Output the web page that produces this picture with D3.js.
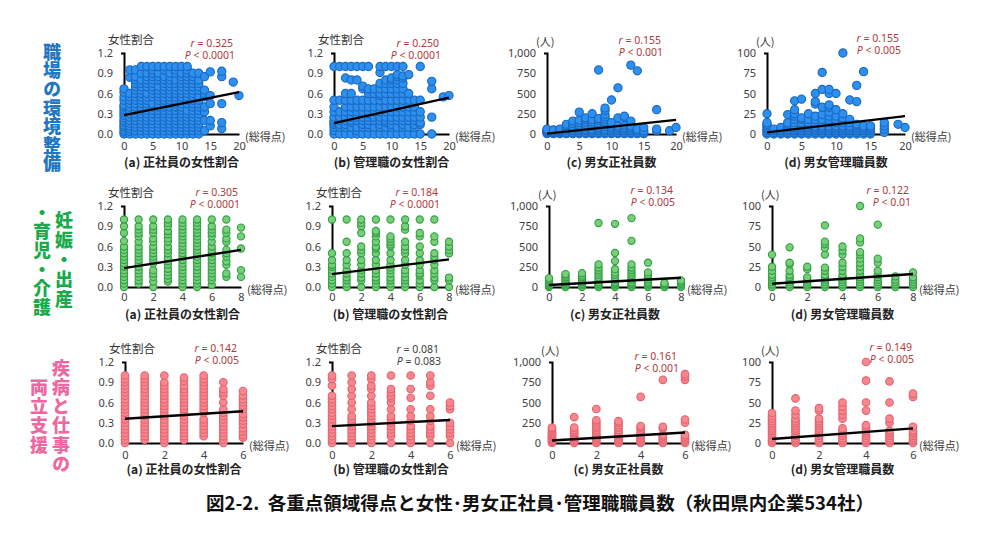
<!DOCTYPE html>
<html><head><meta charset="utf-8">
<script src="https://cdn.jsdelivr.net/npm/d3@7"></script>
<style>body{margin:0;background:#fff}</style>
</head><body>
<svg id="c" width="1000" height="535"></svg>
<script>
// ---------------- DATA ----------------
// Each panel: list of [score, [values at that score]]
// Row 1: 職場の環境整備
const envFemaleShare = [
 [0,[0,.03,.06,.1,.13,.17,.2,.24,.28,.32,.36,.4,.43,.5,.55,.62,.67]],
 [1,[0,.04,.08,.12,.16,.2,.25,.3,.35,.4,.45,.5,.55,.6,.84,.95]],
 [2,[0,.05,.1,.15,.2,.25,.3,.35,.4,.45,.5,.55,.6,.65,.7,.75,.8,.85,.95]],
 [3,[0,.05,.1,.15,.2,.25,.3,.35,.4,.45,.5,.55,.6,.65,.7,.75,.8,.9,1]],
 [4,[0,.05,.1,.15,.2,.25,.3,.35,.4,.45,.5,.55,.6,.7,.75,.8,.85,.9,1]],
 [5,[0,.05,.1,.15,.2,.25,.3,.35,.4,.45,.55,.6,.65,.7,.75,.8,.85,.9,.95,1]],
 [6,[0,.05,.1,.15,.2,.25,.3,.35,.4,.45,.5,.55,.6,.65,.7,.8,.85,.9,1]],
 [7,[0,.05,.1,.15,.2,.25,.3,.35,.4,.5,.55,.6,.65,.7,.75,.8,.85,.95,1]],
 [8,[0,.05,.1,.15,.2,.25,.3,.35,.4,.45,.5,.55,.6,.65,.7,.75,.8,.85,.9,1]],
 [9,[0,.05,.1,.15,.2,.25,.3,.35,.4,.45,.5,.55,.6,.65,.7,.75,.8,.9,.95,1]],
 [10,[0,.05,.1,.15,.2,.25,.3,.35,.4,.45,.5,.55,.6,.65,.7,.75,.8,.85,.9,1]],
 [11,[0,.05,.1,.15,.2,.25,.3,.35,.45,.5,.55,.6,.65,.7,.75,.8,.85,.9,.95,1]],
 [12,[0,.05,.1,.15,.2,.25,.3,.35,.4,.45,.5,.55,.6,.65,.7,.75,.8,.85,.9]],
 [13,[0,.05,.1,.15,.2,.25,.3,.35,.4,.45,.5,.55,.65,.7,.75,.8,.9]],
 [14,[.05,.2,.33,.4,.55,.6,.65,.85]],
 [15,[.12,.2,.45,.57,.92]],
 [17,[.08,.17,.45,.85,.93]],
 [19,[.77]],
 [20,[.57]]
];
const envMgrFemaleShare = [
 [0,[0,.05,.1,.14,.17,.2,.25,.33,.4,.5,1]],
 [1,[0,.1,.14,.2,.25,.33,.5,1]],
 [2,[0,.1,.14,.2,.25,.33,.4,.5,.6,.83,1]],
 [3,[0,.1,.17,.2,.25,.33,.4,.5,.6,.8,1]],
 [4,[0,.05,.1,.2,.25,.33,.4,.5,.8,1]],
 [5,[0,.1,.14,.2,.25,.33,.4,.5,.67,.71,1]],
 [6,[0,.1,.14,.2,.25,.3,.33,.4,.5,.6,.67,1]],
 [7,[0,.1,.2,.25,.33,.4,.5,.6,.67]],
 [8,[0,.1,.14,.2,.25,.33,.4,.5,.57,.6,.67,.75,.91,1]],
 [9,[0,.1,.17,.2,.25,.33,.4,.5,.6,.67,.75,.8,1]],
 [10,[0,.1,.14,.2,.25,.33,.4,.5,.6,.67,.75,.8,.83,1]],
 [11,[0,.1,.2,.25,.33,.4,.5,.6,.67,.75,.8,.85,.88,1]],
 [12,[0,.1,.14,.2,.25,.33,.4,.5,.6,.67,.75,.83,.86,1]],
 [13,[0,.1,.2,.25,.33,.4,.5,.6,.88]],
 [14,[0,.1,.14,.2,.25,.33,.4,.5]],
 [15,[0,.14,.17,.25,.33,.5,1]],
 [17,[0,.25,.67,.78]],
 [19,[.55]],
 [20,[.57]]
];
const envEmployees = [
 [0,[5,15,25,35,50,60]],
 [1,[5,15,25,40,50]],
 [2,[5,15,30,45,60]],
 [3,[5,20,40,60,80,100,120]],
 [4,[5,20,40,60,80,100,130,160]],
 [5,[5,20,40,60,80,110,140,170,270]],
 [6,[5,20,40,60,90,120,150,180,200]],
 [7,[5,20,40,60,90,120,150,180,250]],
 [8,[5,20,40,60,80,110,140,170,190,790]],
 [9,[5,20,40,60,90,120,150,180,210,240,290,320]],
 [10,[5,20,40,60,80,110,140,420]],
 [11,[5,20,40,60,80,100,200,570]],
 [12,[5,20,40,60,80,110,200,220]],
 [13,[5,20,40,60,80,100,160,850]],
 [14,[5,20,40,60,780]],
 [15,[5,20,40,80]],
 [17,[40,60,300]],
 [19,[40]],
 [20,[80]]
];
const envManagers = [
 [0,[0,2,4,6,8,10,12,14,25]],
 [1,[0,2,4,6]],
 [2,[0,2,4,6,8]],
 [3,[0,2,4,6,8,10,12,14,24]],
 [4,[0,2,4,6,8,10,14,18,22,25,30,41]],
 [5,[0,2,4,6,8,10,14,18,20,43]],
 [6,[0,2,4,6,8,10,12,14,18,25]],
 [7,[0,2,4,6,8,10,14,18,22,37,40,50]],
 [8,[0,2,4,6,8,10,14,18,24,33,55,76]],
 [9,[0,2,4,6,8,10,14,18,22,27,33,36,50,55]],
 [10,[0,2,4,6,8,10,14,18,22,30,50]],
 [11,[0,2,4,6,8,10,14,18,20,25,100]],
 [12,[0,2,4,6,8,10,14,18,42]],
 [13,[0,2,4,6,8,10,12,40,60]],
 [14,[0,2,4,6,8,10,77]],
 [15,[0,2,4,6,8,10]],
 [17,[2,6,10,14]],
 [19,[12]],
 [20,[8]]
];
// Row 2: 妊娠・出産・育児・介護
const mcFemaleShare = [
 [0,[0,.05,.1,.15,.2,.25,.3,.35,.4,.45,.5,.55,.6,.68,.8,.9,1]],
 [1,[.05,.1,.15,.2,.25,.3,.35,.4,.45,.5,.55,.6,.67,.75,.8,.85,.9,1]],
 [2,[0,.08,.15,.2,.25,.35,.4,.45,.5,.55,.6,.67,.72,.8,.85,.9,1]],
 [3,[.08,.12,.17,.22,.27,.33,.38,.43,.5,.55,.6,.67,.72,.78,.83,.9,.95,1]],
 [4,[0,.05,.1,.15,.2,.25,.3,.35,.4,.45,.5,.55,.6,.65,.7,.75,.8,.85,.9,.95,1]],
 [5,[0,.05,.1,.15,.2,.25,.3,.35,.4,.45,.5,.55,.6,.65,.7,.75,.8,.85,.9,.95,1]],
 [6,[.03,.1,.15,.2,.25,.3,.35,.4,.45,.5,.55,.6,.67,.75,.8,.85,.9,1]],
 [7,[.15,.2,.33,.38,.45,.5,.55,.67,.72,.8,.85,1]],
 [8,[.15,.25,.57,.75,.88]]
];
const mcMgrFemaleShare = [
 [0,[0,.05,.1,.15,.2,.25,.3,.33,.4,.5,1]],
 [1,[0,.05,.1,.14,.2,.25,.33,.4,.5,.67,1]],
 [2,[0,.1,.14,.2,.25,.33,.4,.5,.55,.6,.8,.9,.95,1]],
 [3,[0,.05,.1,.14,.2,.25,.33,.4,.5,.57,.6,.67,.75,.8,.83,1]],
 [4,[0,.05,.1,.14,.2,.25,.29,.33,.4,.5,.6,.63,.67,.71,.75,1]],
 [5,[0,.05,.1,.14,.2,.25,.33,.4,.5,.55,.6,.67,.85,.9,1]],
 [6,[0,.05,.1,.17,.2,.25,.33,.4,.5,.6,.75,.8,1]],
 [7,[0,.1,.14,.2,.25,.33,.4,.45,.5,.67,.75,1]],
 [8,[0,.1,.14,.5,.55,.6,.67]]
];
const mcEmployees = [
 [0,[0,10,20,30,45,60,75,90,110]],
 [1,[0,20,40,60,80,100,120,140,160]],
 [2,[0,20,40,60,80,100,120,140,170]],
 [3,[0,20,40,60,90,120,150,180,210,240,280,790]],
 [4,[0,20,40,60,90,120,150,180,220,320,420,780]],
 [5,[0,20,40,60,90,120,150,180,210,240,280,570,850]],
 [6,[0,20,40,60,90,120,150,180,300]],
 [7,[0,20,35,50]],
 [8,[0,20,40,60,80]]
];
const mcManagers = [
 [0,[0,3,6,9,12,15,20,25,40]],
 [1,[0,3,6,9,12,15,20,28,30,49]],
 [2,[0,3,6,9,12,22,25]],
 [3,[0,3,6,9,12,15,20,24,40,48,53,56,76]],
 [4,[0,3,6,9,12,15,20,25,30,40,45,50]],
 [5,[0,3,6,9,12,15,20,25,30,35,40,43,55,60,100]],
 [6,[0,3,6,9,12,15,20,30,35,77]],
 [7,[0,3,6,9,13]],
 [8,[0,3,6,9,12,18]]
];
// Row 3: 疾病と仕事の両立支援
const swFemaleShare = [
 [0,[0,.05,.1,.15,.2,.25,.3,.35,.4,.45,.5,.55,.6,.65,.7,.75,.8,.85,.9,.95,1]],
 [1,[.05,.1,.15,.2,.25,.3,.35,.4,.45,.5,.55,.6,.65,.7,.75,.8,.85,.9,.95,1]],
 [2,[0,.05,.1,.15,.2,.25,.3,.35,.4,.45,.5,.55,.6,.65,.7,.75,.8,.85,.9,1]],
 [3,[.05,.1,.15,.2,.25,.3,.35,.4,.45,.5,.55,.6,.65,.7,.75,.8,.85,.92,.97]],
 [4,[.1,.15,.2,.25,.3,.35,.45,.5,.55,.6,.65,.7,.75,.8,.85,.9,.95,1]],
 [5,[0,.05,.1,.15,.2,.25,.3,.35,.4,.45,.5,.6,.7,.75,.8,.9]],
 [6,[.08,.12,.17,.22,.28,.33,.38,.43,.5,.55,.6,.65,.7,.77]]
];
const swMgrFemaleShare = [
 [0,[0,.05,.1,.15,.2,.25,.3,.35,.4,.45,.5,.55,.6,.65,.7,.85,.95,1]],
 [1,[0,.05,.1,.15,.2,.25,.3,.35,.4,.5,.6,.7,.8,.9,1]],
 [2,[0,.05,.1,.15,.2,.25,.3,.35,.4,.45,.5,.55,.6,.7,.8,.85,.95,1]],
 [3,[0,.1,.15,.2,.25,.3,.35,.4,.5,.6,.67,.7,.75,.8,1]],
 [4,[0,.05,.1,.15,.2,.25,.33,.4,.5,.67,.8,1]],
 [5,[0,.1,.15,.2,.25,.33,.4,.5,.7,.85,.9,1]],
 [6,[0,.1,.15,.2,.25,.3,.5,.55,.6]]
];
const swEmployees = [
 [0,[0,15,30,45,60,75,90,105,120,140,160,180,190]],
 [1,[0,20,40,60,80,100,120,140,160,190,320]],
 [2,[0,20,40,60,80,100,130,160,190,220,250,280,420]],
 [3,[0,20,40,60,80,100,130,160,190,220,250,270]],
 [4,[0,20,40,60,80,100,130,160,190,210,570]],
 [5,[0,20,40,60,80,100,180,200,780]],
 [6,[0,20,40,60,80,100,250,290,780,820,850]]
];
const swManagers = [
 [0,[0,3,6,9,12,15,18,21,24,27,30,33,37]],
 [1,[0,3,6,9,12,15,18,21,24,27,30,35,40,55]],
 [2,[0,3,6,9,12,15,18,21,24,27,30,40,43]],
 [3,[0,3,6,9,12,15,18,30,35,40,45,50]],
 [4,[0,3,6,9,12,15,18,22,40,50,77,100]],
 [5,[0,3,6,9,12,15,25,30,50,76]],
 [6,[0,3,6,9,12,15,20,57,61]]
];

// regression line values at score 0 and at max score
const regAtZero = [[0.28,0.16,5,2],[0.28,0.19,25,4],[0.36,0.25,30,5]];
const regAtMax  = [[0.62,0.54,175,22],[0.55,0.41,115,16],[0.47,0.34,130,18]];

const rValues = [["0.325","0.250","0.155","0.155"],["0.305","0.184","0.134","0.122"],["0.142","0.081","0.161","0.149"]];
const pValues = [["< 0.0001","< 0.0001","< 0.001","< 0.005"],["< 0.0001","< 0.0001","< 0.005","< 0.01"],["< 0.005","= 0.083","< 0.001","< 0.005"]];
const significant = [[true,true,true,true],[true,true,true,true],[true,false,true,true]];

const xMaxByRow = [20, 8, 6];
const xTicksByRow = [[0,5,10,15,20],[0,2,4,6,8],[0,2,4,6]];
const yMaxByCol = [1.2, 1.2, 1000, 100];
const yTicksByCol = [[0,0.3,0.6,0.9,1.2],[0,0.3,0.6,0.9,1.2],[0,250,500,750,1000],[0,25,50,75,100]];
const yLabelByCol = ["女性割合","女性割合","(人)","(人)"];
const subtitles = ["(a) 正社員の女性割合","(b) 管理職の女性割合","(c) 男女正社員数","(d) 男女管理職員数"];
const xAxisLabel = "(総得点)";
const rowLabelColumns = [["職場の環境整備"],["妊娠・出産","・育児・介護"],["疾病と仕事の","両立支援"]];
const titleText = "図2-2.  各重点領域得点と女性･男女正社員･管理職職員数（秋田県内企業534社）";

const panelData = [
 [envFemaleShare, envMgrFemaleShare, envEmployees, envManagers],
 [mcFemaleShare, mcMgrFemaleShare, mcEmployees, mcManagers],
 [swFemaleShare, swMgrFemaleShare, swEmployees, swManagers]
];

// ---------------- LAYOUT / STYLE ----------------
const colX = [
 [[124,239],[334,449],[547,676],[767,905]],
 [[124,241],[332,449],[549,681],[772,913]],
 [[125,243],[332,450],[552,685],[772,913]]
];
const rowY = [[53,134],[206,287],[362,443]];
const statPos = [
 [[233,47],[439,47],[661,44],[899,42]],
 [[238,196],[438,196],[673,194],[909,194]],
 [[237,352],[439,353],[677,360],[912,351]]
];
const subtitleY = [167, 319, 474];
const rowStyle = [
 {fill:"#2d8ff0", stroke:"#1a68bd", r:4.1, label:"#1f77c2"},
 {fill:"#78cf78", stroke:"#2f9f45", r:3.6, label:"#18ab4a"},
 {fill:"#f5878e", stroke:"#e5626e", r:3.8, label:"#ef66a0"}
];
// [x center, top y, letter spacing] for each vertical label column
const rowLabelPos = [
 [[52, 43, 0.6]],
 [[64, 211, 1.7], [42, 203, 1]],
 [[61, 359, 1.2], [39, 378, 1.3]]
];

const JP = "'Noto Sans CJK JP','Noto Sans',sans-serif";
const NUM = "'Noto Sans','DejaVu Sans',sans-serif";
const svg = d3.select("#c");
svg.append("rect").attr("width",1000).attr("height",535).attr("fill","#fff");

const yFormats = [d3.format(".1f"), d3.format(".1f"), d3.format(","), d3.format("d")];
const xFormat = d3.format("d");

for (let r = 0; r < 3; r++) {
  for (let c = 0; c < 4; c++) {
    const [L, R] = colX[r][c];
    const [T, B] = rowY[r];
    const xs = d3.scaleLinear().domain([0, xMaxByRow[r]]).range([L, R]);
    const ys = d3.scaleLinear().domain([0, yMaxByCol[c]]).range([B, T]);
    const g = svg.append("g");

    const ya = g.append("g").attr("transform", `translate(${L},0)`)
      .call(d3.axisLeft(ys).tickValues(yTicksByCol[c]).tickSizeInner(0).tickSizeOuter(3).tickPadding(11).tickFormat(yFormats[c]));
    const xa = g.append("g").attr("transform", `translate(0,${B})`)
      .call(d3.axisBottom(xs).tickValues(xTicksByRow[r]).tickSizeInner(0).tickSizeOuter(0).tickPadding(r===1?6:8).tickFormat(xFormat));
    [ya, xa].forEach(a => {
      a.select(".domain").attr("stroke", "#000").attr("stroke-width", 2);
      a.selectAll(".tick line").remove();
      a.selectAll("text").attr("font-family", NUM).attr("font-size", 11).attr("fill", "#404040");
    });

    // points
    const pts = [];
    panelData[r][c].forEach(([sx, vals]) => vals.forEach(v => pts.push([sx, v])));
    const st = rowStyle[r];
    g.append("g").selectAll("circle").data(pts).join("circle")
      .attr("cx", d => xs(d[0])).attr("cy", d => ys(d[1])).attr("r", st.r)
      .attr("fill", st.fill).attr("stroke", st.stroke).attr("stroke-width", 1.1);

    // regression line
    g.append("line")
      .attr("x1", xs(0)).attr("y1", ys(regAtZero[r][c]))
      .attr("x2", xs(xMaxByRow[r])).attr("y2", ys(regAtMax[r][c]))
      .attr("stroke", "#000").attr("stroke-width", 2.4);

    // y label
    const isRatio = c < 2;
    g.append("text").attr("x", isRatio ? L - 16 : L - 11).attr("y", isRatio ? T - 9 : T - 7)
      .attr("font-family", JP).attr("font-size", isRatio ? 11.5 : 11).attr("fill", "#333")
      .text(yLabelByCol[c]);

    // x label
    g.append("text").attr("x", R + 6).attr("y", B + 7)
      .attr("font-family", JP).attr("font-size", 11).attr("fill", "#333").text(xAxisLabel);

    // stats
    const [sxp, syp] = statPos[r][c];
    const col = significant[r][c] ? "#b0393b" : "#404040";
    const t1 = g.append("text").attr("x", sxp).attr("y", syp).attr("text-anchor", "end")
      .attr("font-family", NUM).attr("font-size", 10.5).attr("fill", col);
    t1.append("tspan").attr("font-style", "italic").text("r");
    t1.append("tspan").text(" = " + rValues[r][c]);
    const t2 = g.append("text").attr("x", sxp + 2).attr("y", syp + 12).attr("text-anchor", "end")
      .attr("font-family", NUM).attr("font-size", 10.5).attr("fill", col);
    t2.append("tspan").attr("font-style", "italic").text("P");
    t2.append("tspan").text(" " + pValues[r][c]);

    // subtitle
    g.append("text").attr("x", (L + R) / 2).attr("y", subtitleY[r]).attr("text-anchor", "middle")
      .attr("font-family", JP).attr("font-weight", "bold").attr("font-size", 12).attr("fill", "#222")
      .text(subtitles[c]);
  }
  // vertical row labels
  rowLabelColumns[r].forEach((txt, i) => {
    const [lx, ly, ls] = rowLabelPos[r][i];
    svg.append("text").attr("x", lx).attr("y", ly)
      .style("writing-mode", "vertical-rl").style("text-orientation", "upright")
      .attr("letter-spacing", ls)
      .attr("font-family", JP).attr("font-weight", 900).attr("font-size", 18)
      .attr("fill", rowStyle[r].label).text(txt);
  });
}

svg.append("text").attr("x", 540).attr("y", 510).attr("text-anchor", "middle")
  .attr("font-family", JP).attr("font-weight", "bold").attr("font-size", 18.5).attr("fill", "#111")
  .attr("xml:space", "preserve").style("white-space", "pre")
  .text(titleText);
</script>
</body></html>
